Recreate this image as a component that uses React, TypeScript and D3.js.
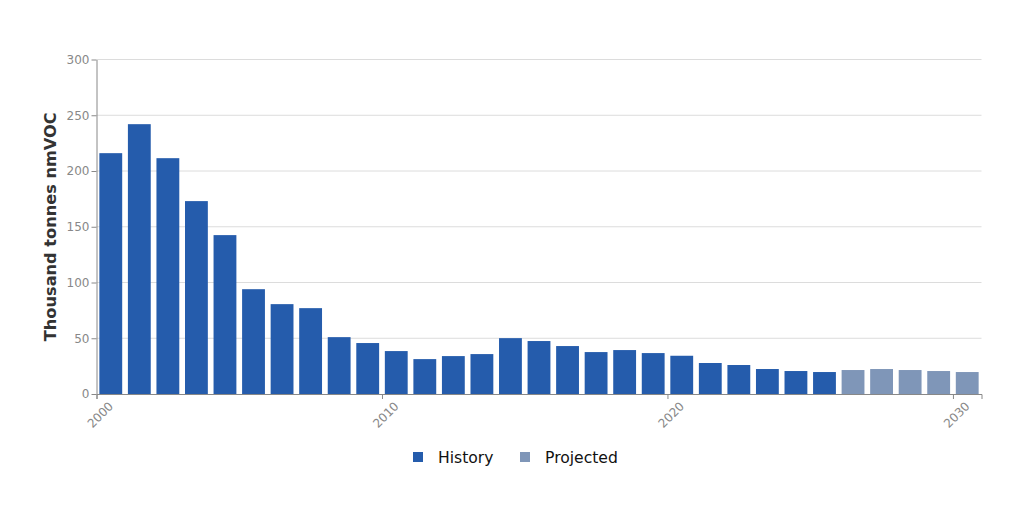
import React, { useEffect, useRef } from "react";
import * as d3 from "d3";

const historyYears = [2000, 2001, 2002, 2003, 2004, 2005, 2006, 2007, 2008, 2009, 2010, 2011, 2012, 2013, 2014, 2015, 2016, 2017, 2018, 2019, 2020, 2021, 2022, 2023, 2024, 2025];
const historyValues = [216, 242, 211.5, 173, 142.5, 94, 80.6, 77, 51, 45.7, 38.5, 31.3, 34, 35.8, 50.1, 47.5, 43, 37.6, 39.4, 36.7, 34.3, 27.8, 26, 22.4, 20.6, 19.7];
const projectedYears = [2026, 2027, 2028, 2029, 2030];
const projectedValues = [21.5, 22.4, 21.5, 20.6, 19.7];
const yTicks = [0, 50, 100, 150, 200, 250, 300];
const xTicks = [2000, 2010, 2020, 2030];
const seriesNames = ["History", "Projected"];
const seriesColors = ["#255cac", "#7f96b8"];
const yTitle = "Thousand tonnes nmVOC";

const W = 1024;
const H = 510;
const M = { left: 96.5, right: 981.5, top: 59.5, bottom: 394 };
const FONT = "'DejaVu Sans', sans-serif";

export default function App() {
  const ref = useRef<SVGSVGElement>(null);

  useEffect(() => {
    const svg = d3.select(ref.current);
    svg.selectAll("*").remove();

    const x = d3.scaleLinear().domain([2000, 2031]).range([M.left, M.right]);
    const y = d3.scaleLinear().domain([0, 300]).range([M.bottom, M.top]);
    const band = x(2001) - x(2000);
    const bw = band * 0.8;

    // grid
    svg
      .append("g")
      .selectAll("line")
      .data(yTicks.filter((t) => t > 0))
      .join("line")
      .attr("x1", M.left)
      .attr("x2", M.right)
      .attr("y1", (d) => y(d))
      .attr("y2", (d) => y(d))
      .attr("stroke", "#dcdcdc")
      .attr("stroke-width", 1);

    // bars
    const series = [
      { years: historyYears, values: historyValues, color: seriesColors[0] },
      { years: projectedYears, values: projectedValues, color: seriesColors[1] },
    ];
    series.forEach((s) => {
      svg
        .append("g")
        .selectAll("rect")
        .data(s.years.map((yr, i) => ({ yr, v: s.values[i] })))
        .join("rect")
        .attr("x", (d) => x(d.yr + 0.5) - bw / 2)
        .attr("width", bw)
        .attr("y", (d) => y(d.v))
        .attr("height", (d) => y(0) - y(d.v))
        .attr("fill", s.color);
    });

    // y axis
    const yAxis = d3
      .axisLeft(y)
      .tickValues(yTicks)
      .tickSize(5)
      .tickSizeOuter(0)
      .tickPadding(2);
    const gy = svg.append("g").attr("transform", `translate(${M.left},0)`).call(yAxis);
    gy.select(".domain").attr("stroke", "#888");
    gy.selectAll(".tick line").attr("stroke", "#888");
    gy.selectAll(".tick text")
      .attr("fill", "#888")
      .style("font-family", FONT)
      .style("font-size", "12px");

    // x axis
    const xAxis = d3
      .axisBottom(x)
      .tickValues(xTicks)
      .tickSize(5)
      .tickSizeOuter(5)
      .tickFormat((d) => String(d));
    const gx = svg.append("g").attr("transform", `translate(0,${M.bottom})`).call(xAxis);
    gx.select(".domain").attr("stroke", "#888");
    gx.selectAll(".tick line").attr("stroke", "#888");
    gx.selectAll(".tick text")
      .attr("fill", "#888")
      .attr("y", null)
      .attr("dy", null)
      .attr("text-anchor", "end")
      .attr("transform", "translate(17,13) rotate(-45)")
      .style("font-family", FONT)
      .style("font-size", "12px");

    // y title
    svg
      .append("text")
      .attr("transform", `translate(56,${(M.top + M.bottom) / 2}) rotate(-90)`)
      .attr("text-anchor", "middle")
      .attr("fill", "#333")
      .style("font-family", FONT)
      .style("font-size", "16.2px")
      .style("font-weight", "bold")
      .text(yTitle);

    // legend
    const legendX = [413, 520];
    const lg = svg.append("g");
    seriesNames.forEach((name, i) => {
      lg.append("rect")
        .attr("x", legendX[i])
        .attr("y", 452)
        .attr("width", 10)
        .attr("height", 10)
        .attr("fill", seriesColors[i]);
      lg.append("text")
        .attr("x", legendX[i] + 25)
        .attr("y", 463)
        .attr("fill", "#111")
        .style("font-family", FONT)
        .style("font-size", "15.6px")
        .text(name);
    });
  }, []);

  return (
    <svg
      ref={ref}
      width={W}
      height={H}
      style={{ position: "absolute", left: 0, top: 0, background: "#fff" }}
    />
  );
}
